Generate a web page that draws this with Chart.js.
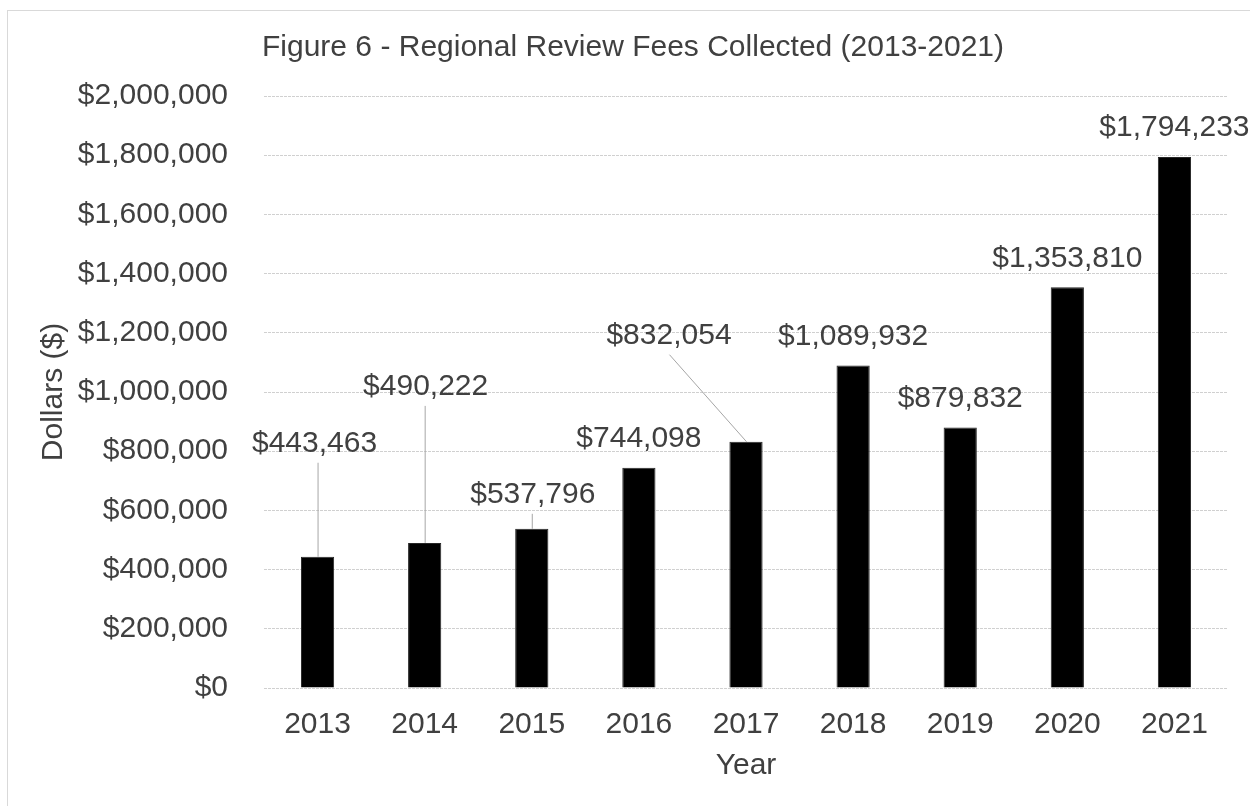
<!DOCTYPE html>
<html>
<head>
<meta charset="utf-8">
<script src="https://cdn.jsdelivr.net/npm/chart.js@4.4.1/dist/chart.umd.min.js"></script>
<style>
  body{ margin:0; background:#fff; }
  canvas{ display:block; }
</style>
</head>
<body>
<canvas id="feesChart" width="1250" height="806"></canvas>
<script>
const years = ["2013","2014","2015","2016","2017","2018","2019","2020","2021"];
const fees = [443463, 490222, 537796, 744098, 832054, 1089932, 879832, 1353810, 1794233];
const yMin = 0, yMax = 2000000, yStep = 200000;
const chartTitle = "Figure 6 - Regional Review Fees Collected (2013-2021)";

const TXT = "#404040";
const FONT = "Liberation Sans, Arial, sans-serif";
const money = v => "$" + Number(v).toLocaleString("en-US");

// label nudges (px) for the ones moved off the bar, and which get a leader line
const labelShift = [[-3,-84],[1,-127],[1,-5],[0,0],[-77,-77],[0,0],[0,0],[0,0],[0,0]];
const leader = [true,true,true,false,true,false,false,false,false];

const decor = {
  id:"decor",
  beforeDraw(chart){
    const c = chart.ctx;
    c.save();
    c.fillStyle = "#fff";
    c.fillRect(0,0,chart.width,chart.height);
    c.strokeStyle = "#d9d9d9"; c.lineWidth = 1;
    c.strokeRect(7.5,10.5,1260,820);
    c.fillStyle = TXT;
    c.font = "30px " + FONT;
    c.textAlign = "left"; c.textBaseline = "middle";
    c.fillText(chartTitle, chart.chartArea.left - 2, 48);
    c.restore();
  },
  afterDatasetsDraw(chart){
    const c = chart.ctx;
    const bars = chart.getDatasetMeta(0).data;
    c.save();
    c.font = "30px " + FONT;
    c.fillStyle = TXT;
    c.textAlign = "center"; c.textBaseline = "middle";
    bars.forEach((b,i)=>{
      const lx = b.x + labelShift[i][0];
      const ly = b.y - 29 + labelShift[i][1];
      if(leader[i]){
        const sx = Math.abs(labelShift[i][0]) < 10 ? b.x : lx;
        c.strokeStyle = "#a6a6a6"; c.lineWidth = 1;
        c.beginPath();
        c.moveTo(sx + 0.5, ly + 19);
        c.lineTo(b.x + 0.5, b.y);
        c.stroke();
      }
      c.fillText(money(fees[i]), lx, ly);
    });
    c.restore();
  }
};

new Chart(document.getElementById("feesChart"), {
  type:"bar",
  data:{ labels: years, datasets:[{ label:"Fees", data: fees, backgroundColor:"#000", borderColor:"#262626", borderWidth:1, barPercentage:0.31, categoryPercentage:1 }]},
  options:{
    responsive:false,
    animation:false,
    layout:{ padding:{ top:96, right:22, bottom:0, left:0 } },
    plugins:{ legend:{ display:false }, title:{ display:false }, tooltip:{ enabled:false } },
    scales:{
      x:{
        grid:{ display:false },
        border:{ display:false },
        ticks:{ color:TXT, font:{ family:FONT, size:30 }, padding:11 },
        title:{ display:true, text:"Year", color:TXT, font:{ family:FONT, size:30 }, padding:{ top:0, bottom:22 } },
        afterFit(s){ s.height = 118; }
      },
      y:{
        min:yMin, max:yMax,
        grid:{ color:"#d0d0d0", drawTicks:false, tickLength:0 },
        border:{ display:false, dash:[3,1] },
        ticks:{ stepSize:yStep, color:TXT, font:{ family:FONT, size:30 }, padding:36, callback:v=>money(v) },
        title:{ display:true, text:"Dollars ($)", color:TXT, font:{ family:FONT, size:30 }, padding:{ top:36, bottom:0 } },
        afterFit(s){ s.width = 264; }
      }
    }
  },
  plugins:[decor]
});
</script>
</body>
</html>
